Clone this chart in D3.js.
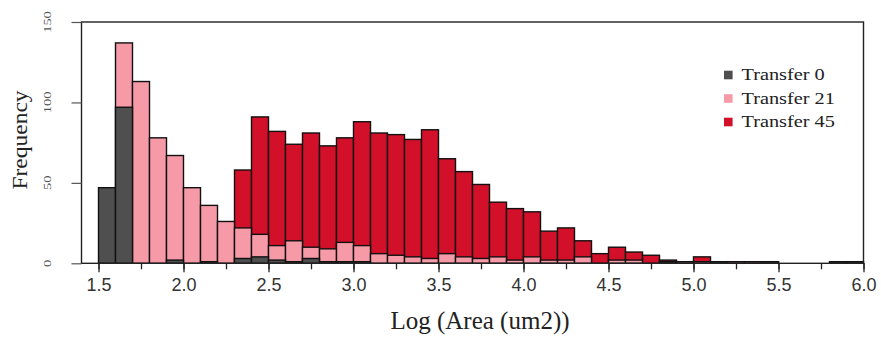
<!DOCTYPE html>
<meta charset="utf-8" />
<head>
  <style>
    body { margin: 0; background: #fff; }
    svg text { font-family: "Liberation Serif", serif; }
    .xaxis text { font-family: "Liberation Sans", Arial, sans-serif; }
    .domain { display: none; }
  </style>
</head>
<script src="https://d3js.org/d3.v7.min.js"></script>
<body>
<svg id="chart" width="881" height="337"></svg>
<script>
  // histogram bins (left edge of each 0.1-wide bin)
  const binStarts = [1.5, 1.6, 1.7, 1.8, 1.9, 2.0, 2.1, 2.2, 2.3, 2.4,
    2.5, 2.6, 2.7, 2.8, 2.9, 3.0, 3.1, 3.2, 3.3, 3.4,
    3.5, 3.6, 3.7, 3.8, 3.9, 4.0, 4.1, 4.2, 4.3, 4.4,
    4.5, 4.6, 4.7, 4.8, 4.9, 5.0, 5.1, 5.2, 5.3, 5.4,
    5.5, 5.6, 5.7, 5.8, 5.9];

  // counts
  const transfer0 = [47, 97, 0, 0, 2, 0, 1, 0, 3, 4,
    2, 1, 3, 1, 1, 1, 0, 0, 0, 0,
    0, 0, 0, 0, 0, 0, 0, 0, 0, 0,
    0, 0, 0, 1, 0, 0, 1, 0, 0, 1,
    0, 0, 0, 1, 1];
  const transfer21 = [0, 137, 113, 78, 67, 47, 36, 26, 22, 18,
    11, 14, 10, 9, 13, 11, 6, 5, 4, 3,
    6, 4, 3, 4, 2, 4, 2, 2, 4, 0,
    2, 2, 0, 0, 1, 1, 0, 1, 1, 0,
    0, 0, 0, 0, 0];
  const transfer45 = [0, 0, 0, 0, 0, 0, 0, 0, 58, 91,
    82, 74, 81, 73, 78, 88, 81, 80, 77, 83,
    65, 57, 49, 38, 34, 32, 20, 22, 14, 6,
    10, 7, 5, 2, 1, 4, 1, 0, 0, 1,
    0, 0, 0, 0, 0];

  const seriesNames = ["Transfer 0", "Transfer 21", "Transfer 45"];
  const seriesColors = ["#4f4f4f", "#f79aa7", "#d3102a"];

  const xTicks = [1.5, 1.75, 2.0, 2.25, 2.5, 2.75, 3.0, 3.25, 3.5, 3.75, 4.0,
    4.25, 4.5, 4.75, 5.0, 5.25, 5.5, 5.75, 6.0];
  const xLabels = [1.5, 2.0, 2.5, 3.0, 3.5, 4.0, 4.5, 5.0, 5.5, 6.0];
  const yTicks = [0, 50, 100, 150];

  const binWidth = 0.1;

  const svg = d3.select("#chart");

  const x = d3.scaleLinear().domain([1.4, 6.0]).range([81.5, 863.5]);
  const y = d3.scaleLinear().domain([0, 150]).range([263.3, 22]);

  // bars: Transfer 45 first, then 21, then 0 on top (overlaid, not stacked)
  const drawOrder = [
    { data: transfer45, color: seriesColors[2] },
    { data: transfer21, color: seriesColors[1] },
    { data: transfer0, color: seriesColors[0] },
  ];

  drawOrder.forEach((s) => {
    svg.append("g")
      .selectAll("rect")
      .data(binStarts.map((b, i) => ({ b: b, v: s.data[i] })).filter((d) => d.v > 0))
      .join("rect")
      .attr("x", (d) => x(d.b))
      .attr("y", (d) => y(d.v))
      .attr("width", (d) => x(d.b + binWidth) - x(d.b))
      .attr("height", (d) => y(0) - y(d.v))
      .attr("fill", s.color)
      .attr("stroke", "#111")
      .attr("stroke-width", 1.4);
  });

  // plot box
  svg.append("rect")
    .attr("x", x.range()[0])
    .attr("y", y.range()[1])
    .attr("width", x.range()[1] - x.range()[0])
    .attr("height", y.range()[0] - y.range()[1])
    .attr("fill", "none")
    .attr("stroke", "#222")
    .attr("stroke-width", 1.4);

  // x axis: minor ticks every 0.25, labels every 0.5
  svg.append("g")
    .attr("transform", `translate(0,${y(0)})`)
    .call(d3.axisBottom(x).tickValues(xTicks).tickSize(6).tickFormat(""))
    .selectAll("line").attr("stroke", "#222").attr("stroke-width", 1.3);

  const xg = svg.append("g")
    .attr("class", "xaxis")
    .attr("transform", `translate(0,${y(0)})`)
    .call(d3.axisBottom(x).tickValues(xLabels).tickSize(9).tickPadding(6)
      .tickFormat(d3.format(".1f")));
  xg.selectAll("line").attr("stroke", "#222").attr("stroke-width", 1.3);
  xg.selectAll("text")
    .attr("font-size", 18)
    .attr("fill", "#333");

  // y axis, labels turned
  const yg = svg.append("g")
    .attr("transform", `translate(${x.range()[0]},0)`)
    .call(d3.axisLeft(y).tickValues(yTicks).tickSize(10).tickFormat(""));
  yg.selectAll("line").attr("stroke", "#555").attr("stroke-width", 1.2);

  svg.append("g")
    .selectAll("text")
    .data(yTicks)
    .join("text")
    .attr("transform", (d) => `translate(51,${y(d)}) rotate(-90) scale(1.45,1)`)
    .attr("text-anchor", "middle")
    .attr("font-size", 10)
    .attr("fill", "#555")
    .text((d) => d);

  // axis titles
  svg.append("text")
    .attr("x", 480)
    .attr("y", 328.5)
    .attr("text-anchor", "middle")
    .attr("font-size", 25)
    .attr("fill", "#222")
    .text("Log (Area (um2))");

  svg.append("text")
    .attr("transform", "translate(27,140) rotate(-90) scale(1.12,1)")
    .attr("text-anchor", "middle")
    .attr("font-size", 21)
    .attr("fill", "#222")
    .text("Frequency");

  // legend
  const legend = svg.append("g");
  const legendRows = legend.selectAll("g")
    .data(seriesNames)
    .join("g")
    .attr("transform", (d, i) => `translate(724,${75 + i * 23.5})`);
  legendRows.append("rect")
    .attr("x", 0)
    .attr("y", -4.3)
    .attr("width", 8.6)
    .attr("height", 8.6)
    .attr("fill", (d, i) => seriesColors[i]);
  legendRows.append("text")
    .attr("transform", "translate(17.5,5) scale(1.27,1)")
    .attr("font-size", 16)
    .attr("fill", "#222")
    .text((d) => d);
</script>
</body>
